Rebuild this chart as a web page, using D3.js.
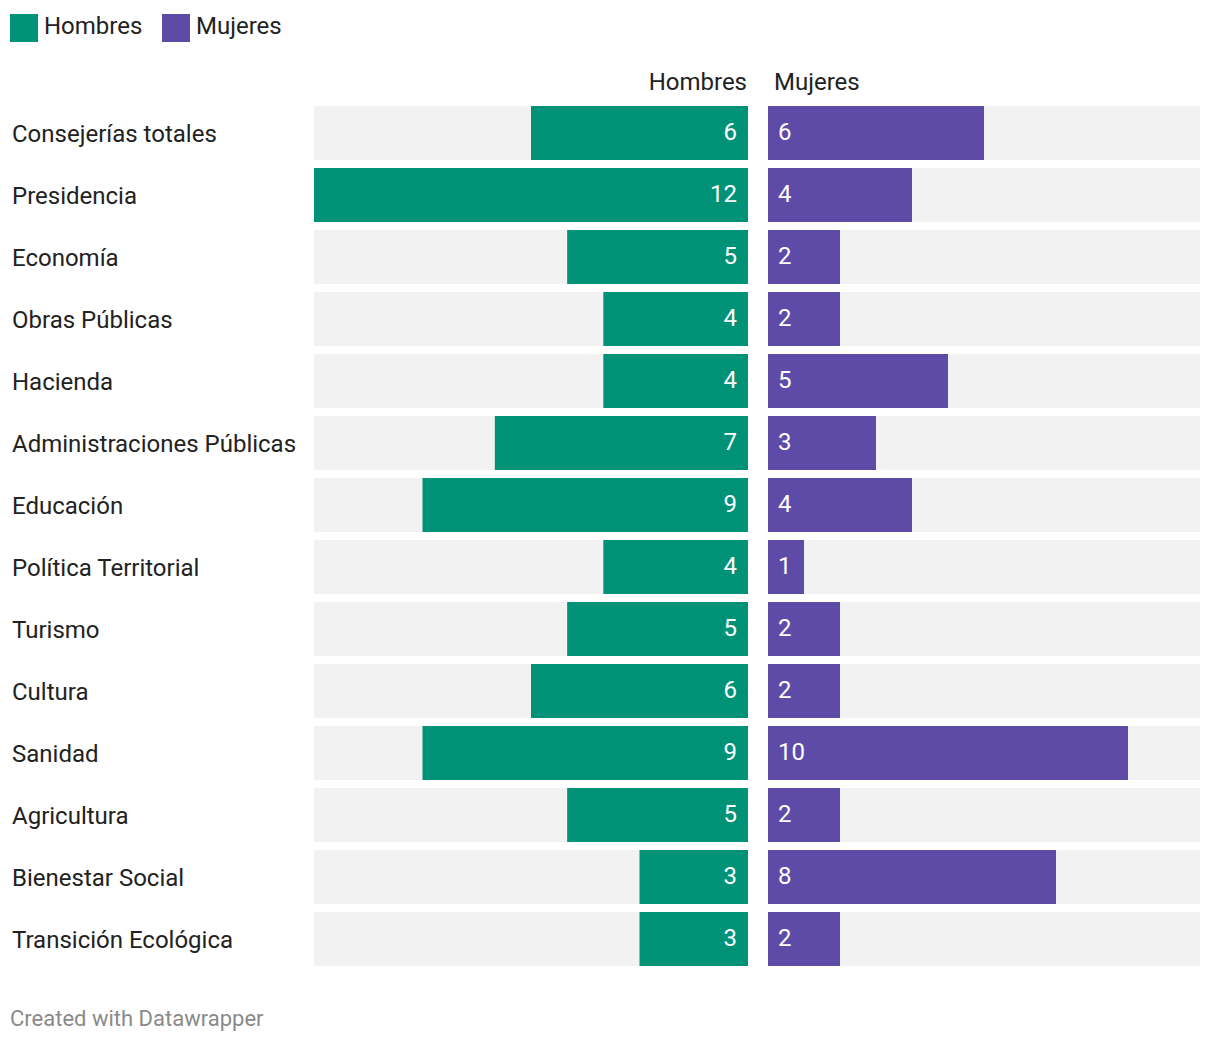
<!DOCTYPE html>
<html><head><meta charset="utf-8">
<script src="https://cdn.jsdelivr.net/npm/d3@7"></script>
<style>body{margin:0;background:#fff;font-family:Roboto,sans-serif;}</style>
</head><body>
<svg id="chart" width="1220" height="1044"></svg>
<script>
const categories = ["Consejerías totales","Presidencia","Economía","Obras Públicas","Hacienda","Administraciones Públicas","Educación","Política Territorial","Turismo","Cultura","Sanidad","Agricultura","Bienestar Social","Transición Ecológica"];
const hombres = [6,12,5,4,4,7,9,4,5,6,9,5,3,3];
const mujeres = [6,4,2,2,5,3,4,1,2,2,10,2,8,2];
const seriesNames = ["Hombres","Mujeres"];
const colors = ["#009277","#5e4ba8"];

const svg = d3.select("#chart");
const font = "Roboto, sans-serif";
const txt = "#222";

// legend
const leg = svg.append("g");
[[10,44],[162,196]].forEach((p,i)=>{
  leg.append("rect").attr("x",p[0]).attr("y",14).attr("width",28).attr("height",28).attr("fill",colors[i]);
  leg.append("text").attr("x",p[1]).attr("y",34).attr("font-family",font).attr("font-size",24).attr("fill",txt).text(seriesNames[i]);
});

const y = d3.scaleBand().domain(categories).range([106, 106 + 62*14]).paddingInner(8/62).paddingOuter(0).align(0);
const bh = 54;

const xL = d3.scaleLinear().domain([0,12]).range([748,314]);
const xR = d3.scaleLinear().domain([0,12]).range([768,1200]);

// headers
svg.append("text").attr("x",747).attr("y",90).attr("text-anchor","end").attr("font-family",font).attr("font-size",24).attr("fill",txt).text(seriesNames[0]);
svg.append("text").attr("x",774).attr("y",90).attr("font-family",font).attr("font-size",24).attr("fill",txt).text(seriesNames[1]);

const rows = svg.append("g").selectAll("g").data(categories).join("g")
  .attr("transform",(d,i)=>`translate(0,${106 + i*62})`);

rows.append("text").attr("x",12).attr("y",36).attr("font-family",font).attr("font-size",24).attr("fill",txt).text(d=>d);

rows.append("rect").attr("x",xL(12)).attr("width",xL(0)-xL(12)).attr("height",bh).attr("fill","#f2f2f2");
rows.append("rect").attr("x",xR(0)).attr("width",xR(12)-xR(0)).attr("height",bh).attr("fill","#f2f2f2");

rows.append("rect").attr("x",(d,i)=>xL(hombres[i])).attr("width",(d,i)=>xL(0)-xL(hombres[i])).attr("height",bh).attr("fill",colors[0]);
rows.append("rect").attr("x",xR(0)).attr("width",(d,i)=>xR(mujeres[i])-xR(0)).attr("height",bh).attr("fill",colors[1]);

rows.append("text").attr("x",xL(0)-11).attr("y",34).attr("text-anchor","end").attr("font-family",font).attr("font-size",24).attr("fill","#fff").text((d,i)=>hombres[i]);
rows.append("text").attr("x",xR(0)+10).attr("y",34).attr("font-family",font).attr("font-size",24).attr("fill","#fff").text((d,i)=>mujeres[i]);

svg.append("text").attr("x",10).attr("y",1026).attr("font-family",font).attr("font-size",22).attr("fill","#8a8a8a").text("Created with Datawrapper");
</script>
</body></html>
